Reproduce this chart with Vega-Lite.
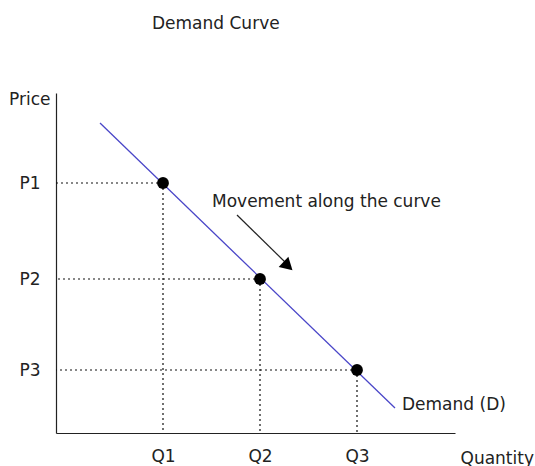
{
  "$schema": "https://vega.github.io/schema/vega-lite/v6.json",
  "autosize": {"type": "none"},
  "width": 399,
  "height": 340,
  "padding": {"left": 56, "top": 93, "right": 80, "bottom": 33},
  "background": "white",
  "config": {
    "view": {"stroke": null},
    "font": "DejaVu Sans",
    "axis": {"grid": false, "ticks": false, "domainColor": "#222222", "domainWidth": 1.2, "labelFont": "DejaVu Sans", "labelFontSize": 17, "labelColor": "#222222", "titleFont": "DejaVu Sans", "titleFontSize": 17, "titleFontWeight": "normal", "titleColor": "#222222"}
  },
  "title": {"text": "Demand Curve", "anchor": "start", "frame": "group", "dx": 96, "offset": 44, "baseline": "alphabetic", "font": "DejaVu Sans", "fontSize": 17, "fontWeight": "normal", "color": "#222222"},
  "datasets": {
    "pts": [
      {"q": 107, "p": 250},
      {"q": 204, "p": 154},
      {"q": 301, "p": 63}
    ],
    "curve": [
      {"x": 44, "y": 310},
      {"x": 339, "y": 25}
    ],
    "arrow": [
      {"x": 181, "y": 218},
      {"x": 230, "y": 170}
    ],
    "head": [{"x": 232, "y": 167}],
    "notes": [
      {"x": 156, "y": 231, "t": "Movement along the curve"},
      {"x": 346, "y": 28, "t": "Demand (D)"}
    ]
  },
  "layer": [
    {
      "data": {"name": "pts"},
      "mark": {"type": "rule", "strokeDash": [2, 3], "color": "#111111", "strokeWidth": 1.2},
      "encoding": {
        "x": {"field": "q", "type": "quantitative", "scale": {"domain": [0, 399], "nice": false, "zero": false}, "axis": {"title": "Quantity", "values": [107, 204, 301], "labelExpr": "datum.value == 107 ? 'Q1' : datum.value == 204 ? 'Q2' : 'Q3'", "labelPadding": 15, "titleAnchor": "start", "titleAlign": "left", "titleX": 404, "titleY": 25, "titleBaseline": "middle"}},
        "x2": {"datum": 0},
        "y": {"field": "p", "type": "quantitative", "scale": {"domain": [0, 340], "nice": false, "zero": false}, "axis": {"title": "Price", "values": [63, 154, 250], "labelExpr": "datum.value == 250 ? 'P1' : datum.value == 154 ? 'P2' : 'P3'", "labelPadding": 16, "titleAngle": 0, "titleAlign": "right", "titleBaseline": "top", "titleX": -6, "titleY": -2}}
      }
    },
    {
      "data": {"name": "pts"},
      "mark": {"type": "rule", "strokeDash": [2, 3], "color": "#111111", "strokeWidth": 1.2},
      "encoding": {
        "x": {"field": "q", "type": "quantitative"},
        "y": {"field": "p", "type": "quantitative"},
        "y2": {"datum": 0}
      }
    },
    {
      "data": {"name": "curve"},
      "mark": {"type": "line", "color": "#4a46c8", "strokeWidth": 1.3},
      "encoding": {
        "x": {"field": "x", "type": "quantitative"},
        "y": {"field": "y", "type": "quantitative"}
      }
    },
    {
      "data": {"name": "pts"},
      "mark": {"type": "point", "filled": true, "color": "#000000", "opacity": 1, "size": 140},
      "encoding": {
        "x": {"field": "q", "type": "quantitative"},
        "y": {"field": "p", "type": "quantitative"}
      }
    },
    {
      "data": {"name": "arrow"},
      "mark": {"type": "line", "color": "#222222", "strokeWidth": 1.2},
      "encoding": {
        "x": {"field": "x", "type": "quantitative"},
        "y": {"field": "y", "type": "quantitative"}
      }
    },
    {
      "data": {"name": "head"},
      "mark": {"type": "point", "shape": "triangle-up", "filled": true, "color": "#000000", "opacity": 1, "size": 200, "angle": 133},
      "encoding": {
        "x": {"field": "x", "type": "quantitative"},
        "y": {"field": "y", "type": "quantitative"}
      }
    },
    {
      "data": {"name": "notes"},
      "mark": {"type": "text", "align": "left", "baseline": "middle", "font": "DejaVu Sans", "fontSize": 17, "color": "#222222"},
      "encoding": {
        "x": {"field": "x", "type": "quantitative"},
        "y": {"field": "y", "type": "quantitative"},
        "text": {"field": "t"}
      }
    }
  ]
}
